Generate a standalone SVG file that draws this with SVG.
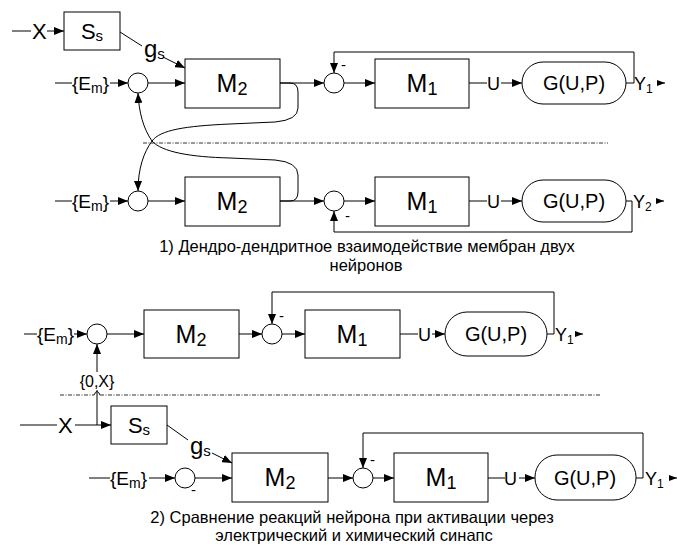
<svg xmlns="http://www.w3.org/2000/svg" width="677" height="545" viewBox="0 0 677 545">
<style>
.ln{fill:none;stroke:#000;stroke-width:1}
.ar{fill:none;stroke:#000;stroke-width:1;marker-end:url(#a)}
.sa{fill:none;stroke:#000;stroke-width:1;marker-end:url(#s)}
.bx{fill:#fff;stroke:#000;stroke-width:1}
.dash{fill:none;stroke:#333;stroke-width:1;stroke-dasharray:4,1.5,1,1.5}
text{font-family:"Liberation Sans",Arial,sans-serif;fill:#000}
.big{font-size:22px}
.m{font-size:25px}
.g{font-size:20px}
.sm{font-size:18px}
.em{font-size:19px}
.mi{font-size:15px}
.cap{font-size:16.5px}
</style>
<defs>
<marker id="a" viewBox="0 0 10 8" refX="10" refY="4" markerWidth="10" markerHeight="8" markerUnits="userSpaceOnUse" orient="auto"><path d="M0,0 L10,4 L0,8 z" fill="#000"/></marker>
<marker id="s" viewBox="0 0 8 6" refX="8" refY="3" markerWidth="8" markerHeight="6" markerUnits="userSpaceOnUse" orient="auto"><path d="M0,0 L8,3 L0,6 z" fill="#000"/></marker>
</defs>

<g id="connectors">
<path class="ln" d="M12,31 H31"/>
<path class="ar" d="M47,31 H64"/>
<path class="ln" d="M120,32 L142,46"/>
<path class="ar" d="M163,57 L185,68"/>
<path class="ln" d="M55,83 H72"/>
<path class="ar" d="M110,83 H128"/>
<path class="ar" d="M148,83 H185"/>
<path class="ar" d="M280,83 H324"/>
<path class="ar" d="M344,83 H375"/>
<path class="ln" d="M469,83 H487"/>
<path class="ar" d="M501,83 H522"/>
<path class="ln" d="M626,83 H634"/>
<path class="sa" d="M657,83 H665"/>
<path class="ar" d="M634,83 V52 H334 V73"/>
<path class="ar" d="M280,83 H290 Q298,83 298,92 V108 Q298,120 275,122 L230,124 C185,126 160,130 152,141 C144,152 138,168 138,191"/>
<path class="ar" d="M280,201 H290 Q298,201 298,192 V175 Q298,162 275,160 L230,158 C190,157 162,152 152,141 C143,128 139,112 138,93"/>
<path class="ln" d="M55,201 H72"/>
<path class="ar" d="M110,201 H128"/>
<path class="ar" d="M148,201 H185"/>
<path class="ar" d="M280,201 H324"/>
<path class="ar" d="M344,201 H375"/>
<path class="ln" d="M469,201 H487"/>
<path class="ar" d="M501,201 H522"/>
<path class="ln" d="M626,201 H632"/>
<path class="sa" d="M656,201 H664"/>
<path class="ar" d="M632,201 V232 H334 V211"/>
<path class="dash" d="M143,143 H608"/>
<path class="ln" d="M24,334 H37"/>
<path class="ar" d="M74,334 H87"/>
<path class="ar" d="M107,334 H144"/>
<path class="ar" d="M239,334 H262"/>
<path class="ar" d="M282,334 H305"/>
<path class="ln" d="M400,334 H418"/>
<path class="ar" d="M432,334 H445"/>
<path class="ln" d="M547,334 H554"/>
<path class="sa" d="M576,334 H583"/>
<path class="ar" d="M554,334 V292 H272 V324"/>
<path class="ar" d="M97,372 V344"/>
<path class="ln" d="M97,425 V390"/>
<path class="dash" d="M60,395 H94"/>
<path class="ln" d="M94,395 Q97,388 100,395"/>
<path class="dash" d="M100,395 H600"/>
<path class="ln" d="M20,425 H57"/>
<path class="ar" d="M75,425 H111"/>
<path class="ln" d="M167,425 L188,440"/>
<path class="ar" d="M212,453 L232,463"/>
<path class="ln" d="M89,478 H110"/>
<path class="ar" d="M149,478 H175"/>
<path class="ar" d="M195,478 H232"/>
<path class="ar" d="M328,478 H353"/>
<path class="ar" d="M373,478 H394"/>
<path class="ln" d="M488,478 H505"/>
<path class="ar" d="M519,478 H535"/>
<path class="ln" d="M636,478 H643"/>
<path class="sa" d="M669,478 H677"/>
<path class="ar" d="M643,478 V433 H363 V468"/>
</g>

<g id="x1"><text class="big" x="32" y="39">X</text></g>
<g id="ss1"><rect class="bx" x="64" y="12" width="56" height="38"/><text class="big" x="92" y="39" text-anchor="middle">S<tspan font-size="15" dy="2">s</tspan></text></g>
<g id="gs1"><text x="144" y="57" font-size="24">g<tspan font-size="15" dy="2">s</tspan></text></g>
<g id="em1"><text class="em" x="72" y="90">{E<tspan font-size="14" dy="3">m</tspan><tspan dy="-3">}</tspan></text></g>
<g id="sum1a"><circle class="bx" cx="138" cy="83" r="10"/></g>
<g id="m2a"><rect class="bx" x="185" y="59" width="95" height="49"/><text class="m" x="232" y="92" text-anchor="middle">M<tspan font-size="18" dy="3">2</tspan></text></g>
<g id="sum1b"><circle class="bx" cx="334" cy="83" r="10"/><text class="mi" x="341" y="70">-</text></g>
<g id="m1a"><rect class="bx" x="375" y="59" width="94" height="49"/><text class="m" x="422" y="92" text-anchor="middle">M<tspan font-size="18" dy="3">1</tspan></text></g>
<g id="u1a"><text class="sm" x="487" y="90">U</text></g>
<g id="g1a"><rect class="bx" x="522" y="62" width="104" height="42" rx="21"/><text class="g" x="574" y="90" text-anchor="middle">G(U,P)</text></g>
<g id="y1a"><text class="sm" x="634" y="90">Y<tspan font-size="12" dy="3">1</tspan></text></g>

<g id="em2"><text class="em" x="72" y="208">{E<tspan font-size="14" dy="3">m</tspan><tspan dy="-3">}</tspan></text></g>
<g id="sum2a"><circle class="bx" cx="138" cy="201" r="10"/></g>
<g id="m2b"><rect class="bx" x="185" y="177" width="95" height="49"/><text class="m" x="232" y="210" text-anchor="middle">M<tspan font-size="18" dy="3">2</tspan></text></g>
<g id="sum2b"><circle class="bx" cx="334" cy="201" r="10"/><text class="mi" x="345" y="221">-</text></g>
<g id="m1b"><rect class="bx" x="375" y="177" width="94" height="49"/><text class="m" x="422" y="210" text-anchor="middle">M<tspan font-size="18" dy="3">1</tspan></text></g>
<g id="u1b"><text class="sm" x="487" y="208">U</text></g>
<g id="g1b"><rect class="bx" x="522" y="180" width="104" height="42" rx="21"/><text class="g" x="574" y="208" text-anchor="middle">G(U,P)</text></g>
<g id="y2b"><text class="sm" x="633" y="208">Y<tspan font-size="12" dy="3">2</tspan></text></g>

<g id="cap1"><text class="cap" x="367" y="252" text-anchor="middle">1) Дендро-дендритное взаимодействие мембран двух</text><text class="cap" x="366" y="271" text-anchor="middle">нейронов</text></g>

<g id="em3"><text class="em" x="37" y="341">{E<tspan font-size="14" dy="3">m</tspan><tspan dy="-3">}</tspan></text></g>
<g id="sum3a"><circle class="bx" cx="97" cy="334" r="10"/></g>
<g id="m2c"><rect class="bx" x="144" y="310" width="95" height="48"/><text class="m" x="191" y="343" text-anchor="middle">M<tspan font-size="18" dy="3">2</tspan></text></g>
<g id="sum3b"><circle class="bx" cx="272" cy="334" r="10"/><text class="mi" x="279" y="321">-</text></g>
<g id="m1c"><rect class="bx" x="305" y="310" width="95" height="48"/><text class="m" x="352" y="343" text-anchor="middle">M<tspan font-size="18" dy="3">1</tspan></text></g>
<g id="u1c"><text class="sm" x="418" y="341">U</text></g>
<g id="g1c"><rect class="bx" x="445" y="312" width="102" height="44" rx="22"/><text class="g" x="496" y="341" text-anchor="middle">G(U,P)</text></g>
<g id="y1c"><text class="sm" x="555" y="341">Y<tspan font-size="12" dy="3">1</tspan></text></g>
<g id="ox"><text x="97" y="387" font-size="16" text-anchor="middle">{0,X}</text></g>

<g id="x2"><text class="big" x="58" y="433">X</text></g>
<g id="ss2"><rect class="bx" x="111" y="406" width="56" height="38"/><text class="big" x="139" y="433" text-anchor="middle">S<tspan font-size="15" dy="2">s</tspan></text></g>
<g id="gs2"><text x="190" y="454" font-size="24">g<tspan font-size="15" dy="2">s</tspan></text></g>
<g id="em4"><text class="em" x="110" y="485">{E<tspan font-size="14" dy="3">m</tspan><tspan dy="-3">}</tspan></text></g>
<g id="sum4a"><circle class="bx" cx="185" cy="478" r="10"/><text class="mi" x="191" y="495">-</text></g>
<g id="m2d"><rect class="bx" x="232" y="453" width="96" height="49"/><text class="m" x="280" y="486" text-anchor="middle">M<tspan font-size="18" dy="3">2</tspan></text></g>
<g id="sum4b"><circle class="bx" cx="363" cy="478" r="10"/><text class="mi" x="370" y="465">-</text></g>
<g id="m1d"><rect class="bx" x="394" y="453" width="94" height="49"/><text class="m" x="441" y="486" text-anchor="middle">M<tspan font-size="18" dy="3">1</tspan></text></g>
<g id="u1d"><text class="sm" x="504" y="485">U</text></g>
<g id="g1d"><rect class="bx" x="535" y="455" width="101" height="45" rx="22"/><text class="g" x="585" y="485" text-anchor="middle">G(U,P)</text></g>
<g id="y1d"><text class="sm" x="645" y="485">Y<tspan font-size="12" dy="3">1</tspan></text></g>

<g id="cap2"><text class="cap" x="352" y="523" text-anchor="middle">2) Сравнение реакций нейрона при активации через</text><text class="cap" x="354" y="541" text-anchor="middle">электрический и химический синапс</text></g>
</svg>
